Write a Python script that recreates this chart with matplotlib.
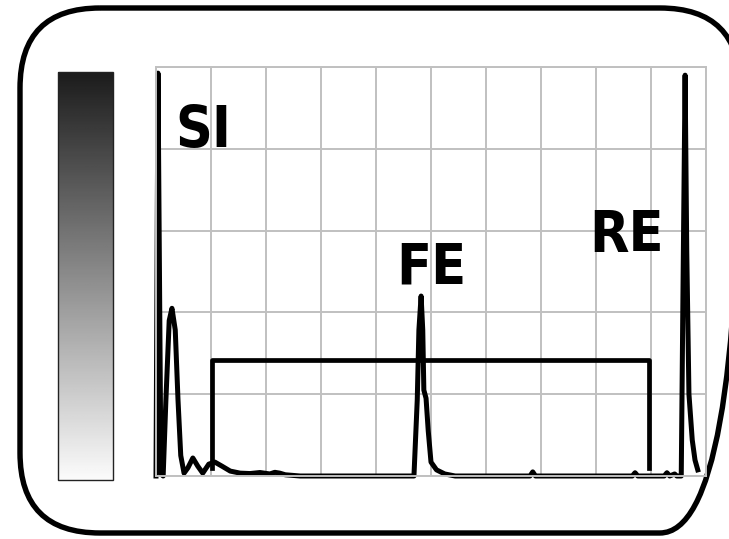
import numpy as np
import matplotlib
matplotlib.use('Agg')
import matplotlib.pyplot as plt
from matplotlib.patches import FancyBboxPatch, Rectangle

# A-scan trace (x in % of range, y in % of screen height)
trace_x = [0, 0.36, 0.9, 1.3, 1.8, 2.4, 2.9, 3.5, 4.0, 4.5, 5.1, 5.8, 6.7, 7.6, 8.5,
           9.6, 10.7, 12.0, 13.5, 15.3, 17.1, 18.9, 20.7, 21.6, 22.5, 23.5, 26.2,
           46.9, 47.5, 47.8, 48.2, 48.5, 48.7, 49.1, 49.5, 50.0, 51.0, 52.5, 54.4,
           68.0, 68.5, 69.0, 86.6, 87.1, 87.6, 92.4, 92.9, 93.4, 94.3, 94.7, 95.5,
           95.8, 96.2, 96.5, 96.9, 97.5, 98.0, 98.5]
trace_y = [0, 98.5, 0.5, 0, 18.6, 38, 41, 35.7, 18.6, 5, 0.7, 2, 4.4, 2.4, 0.7,
           2.9, 3.4, 2.4, 1.2, 0.7, 0.6, 0.85, 0.5, 0.9, 0.7, 0.3, 0,
           0, 18.6, 35.7, 44, 35.7, 21, 19, 11, 3.4, 1.5, 0.5, 0,
           0, 1, 0, 0, 0.8, 0, 0, 0.8, 0, 0.5, 0, 0,
           43, 98, 55, 20, 8.8, 3.9, 1.5]

# gate
gate_start = 10.2
gate_end = 89.7
gate_level = 28.4
gate_foot = 2

labels = ['SI', 'FE', 'RE']
label_x = [3.45, 43.6, 78.7]
label_y = [80.4, 46.7, 54.8]

W, H = 729, 539
fig = plt.figure(figsize=(W / 100, H / 100), dpi=100)

# background: rounded frame + gain bar, in pixel coordinates
bg = fig.add_axes([0, 0, 1, 1], zorder=0)
bg.set_xlim(0, W)
bg.set_ylim(H, 0)
bg.axis('off')
frame = FancyBboxPatch((20, 8), 720, 525, boxstyle='round,pad=0,rounding_size=80',
                       fill=False, ec='black', lw=3.9, clip_on=False)
bg.add_patch(frame)
grad = np.linspace(0.11, 0.985, 256).reshape(-1, 1)
bg.imshow(grad, cmap='gray', vmin=0, vmax=1, extent=[58, 113, 480, 72], aspect='auto')
bg.add_patch(Rectangle((58, 72), 55, 408, fill=False, ec='#222222', lw=1))
bg.set_xlim(0, W)
bg.set_ylim(H, 0)

ax = fig.add_axes([156 / W, 63 / H, 550 / W, 409 / H], zorder=1)
ax.patch.set_alpha(0)
ax.set_xlim(0, 100)
ax.set_ylim(0, 100)
ax.set_xticks(np.arange(0, 101, 10))
ax.set_yticks(np.arange(0, 101, 20))
ax.tick_params(length=0, labelbottom=False, labelleft=False)
ax.grid(True, color='#c0c0c0', lw=1.4)
for s in ax.spines.values():
    s.set_color('#c0c0c0')
    s.set_linewidth(1.4)

ax.plot(trace_x, trace_y, color='black', lw=3.6, clip_on=False, solid_joinstyle='round')
ax.plot([gate_start, gate_start, gate_end, gate_end],
        [gate_foot, gate_level, gate_level, gate_foot], color='black', lw=3.4, clip_on=False)

for t, x, y in zip(labels, label_x, label_y):
    ax.text(x, y, t, fontsize=41, fontweight='bold', fontstretch='condensed',
            va='baseline', ha='left', family=['DejaVu Sans'])

fig.savefig('out.png', dpi=100)
